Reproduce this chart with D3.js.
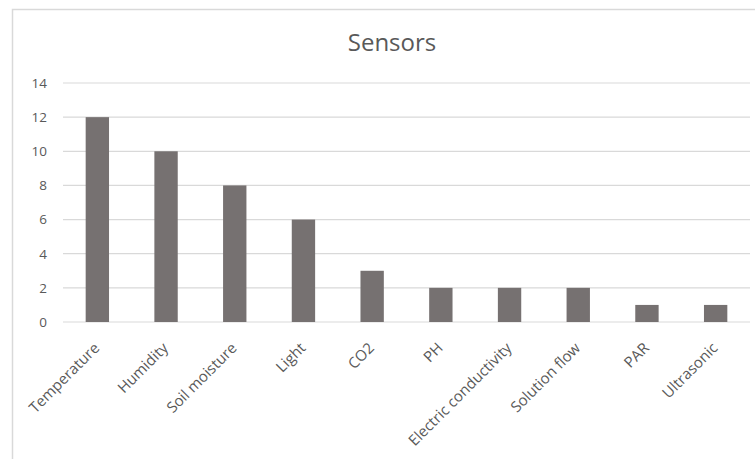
<!DOCTYPE html>
<html>
<head>
<meta charset="utf-8">
<script src="https://cdn.jsdelivr.net/npm/d3@7"></script>
<style>
  html, body { margin: 0; padding: 0; background: #fff; }
  svg { display: block; }
</style>
</head>
<body>
<script>
const categories = ["Temperature", "Humidity", "Soil moisture", "Light", "CO2", "PH", "Electric conductivity", "Solution flow", "PAR", "Ultrasonic"];
const values = [12, 10, 8, 6, 3, 2, 2, 2, 1, 1];
const yTicks = [0, 2, 4, 6, 8, 10, 12, 14];
const title = "Sensors";

(function () {
const W = 755, H = 459;
const svg = d3.select("body").append("svg").attr("width", W).attr("height", H);

// chart frame (partially visible)
svg.append("rect").attr("x", 12.5).attr("y", 9.5).attr("width", 800).attr("height", 500)
  .attr("fill", "#fff").attr("stroke", "#d9d9d9").attr("stroke-width", 1.5);

const pLeft = 63, pRight = 750, pTop = 83, pBottom = 322;
const x = d3.scaleBand().domain(categories).range([pLeft, pRight]).paddingInner(0.66).paddingOuter(0.33);
const y = d3.scaleLinear().domain([0, 14]).range([pBottom, pTop]);

// gridlines
svg.append("g").selectAll("line").data(yTicks).join("line")
  .attr("x1", pLeft).attr("x2", pRight)
  .attr("y1", d => y(d)).attr("y2", d => y(d))
  .attr("stroke", "#d9d9d9").attr("stroke-width", 1.2);

// y axis labels
const yAxis = d3.axisLeft(y).tickValues(yTicks).tickSize(0).tickPadding(0);
const gy = svg.append("g").attr("transform", `translate(${47},0)`).call(yAxis);
gy.select(".domain").remove();
gy.selectAll("text").attr("fill", "#595959").style("font-family", "'Open Sans', sans-serif").style("font-size", "13.5px");

// bars
svg.append("g").selectAll("rect").data(values).join("rect")
  .attr("x", (d, i) => x(categories[i]))
  .attr("width", x.bandwidth())
  .attr("y", d => y(d))
  .attr("height", d => y(0) - y(d))
  .attr("fill", "#767171");

// x axis labels
const xAxis = d3.axisBottom(x).tickSize(0).tickPadding(0);
const gx = svg.append("g").attr("transform", `translate(0,${pBottom})`).call(xAxis);
gx.select(".domain").remove();
gx.selectAll("text")
  .attr("fill", "#595959")
  .style("font-family", "'Open Sans', sans-serif").style("font-size", "15px")
  .attr("text-anchor", "end")
  .attr("y", 0)
  .attr("dy", "0")
  .attr("transform", "translate(3,27) rotate(-45)");

// title
svg.append("text").attr("x", 392).attr("y", 51).attr("text-anchor", "middle")
  .attr("fill", "#595959").style("font-family", "'Open Sans', sans-serif").style("font-size", "24px")
  .text(title);
})();
</script>
</body>
</html>
